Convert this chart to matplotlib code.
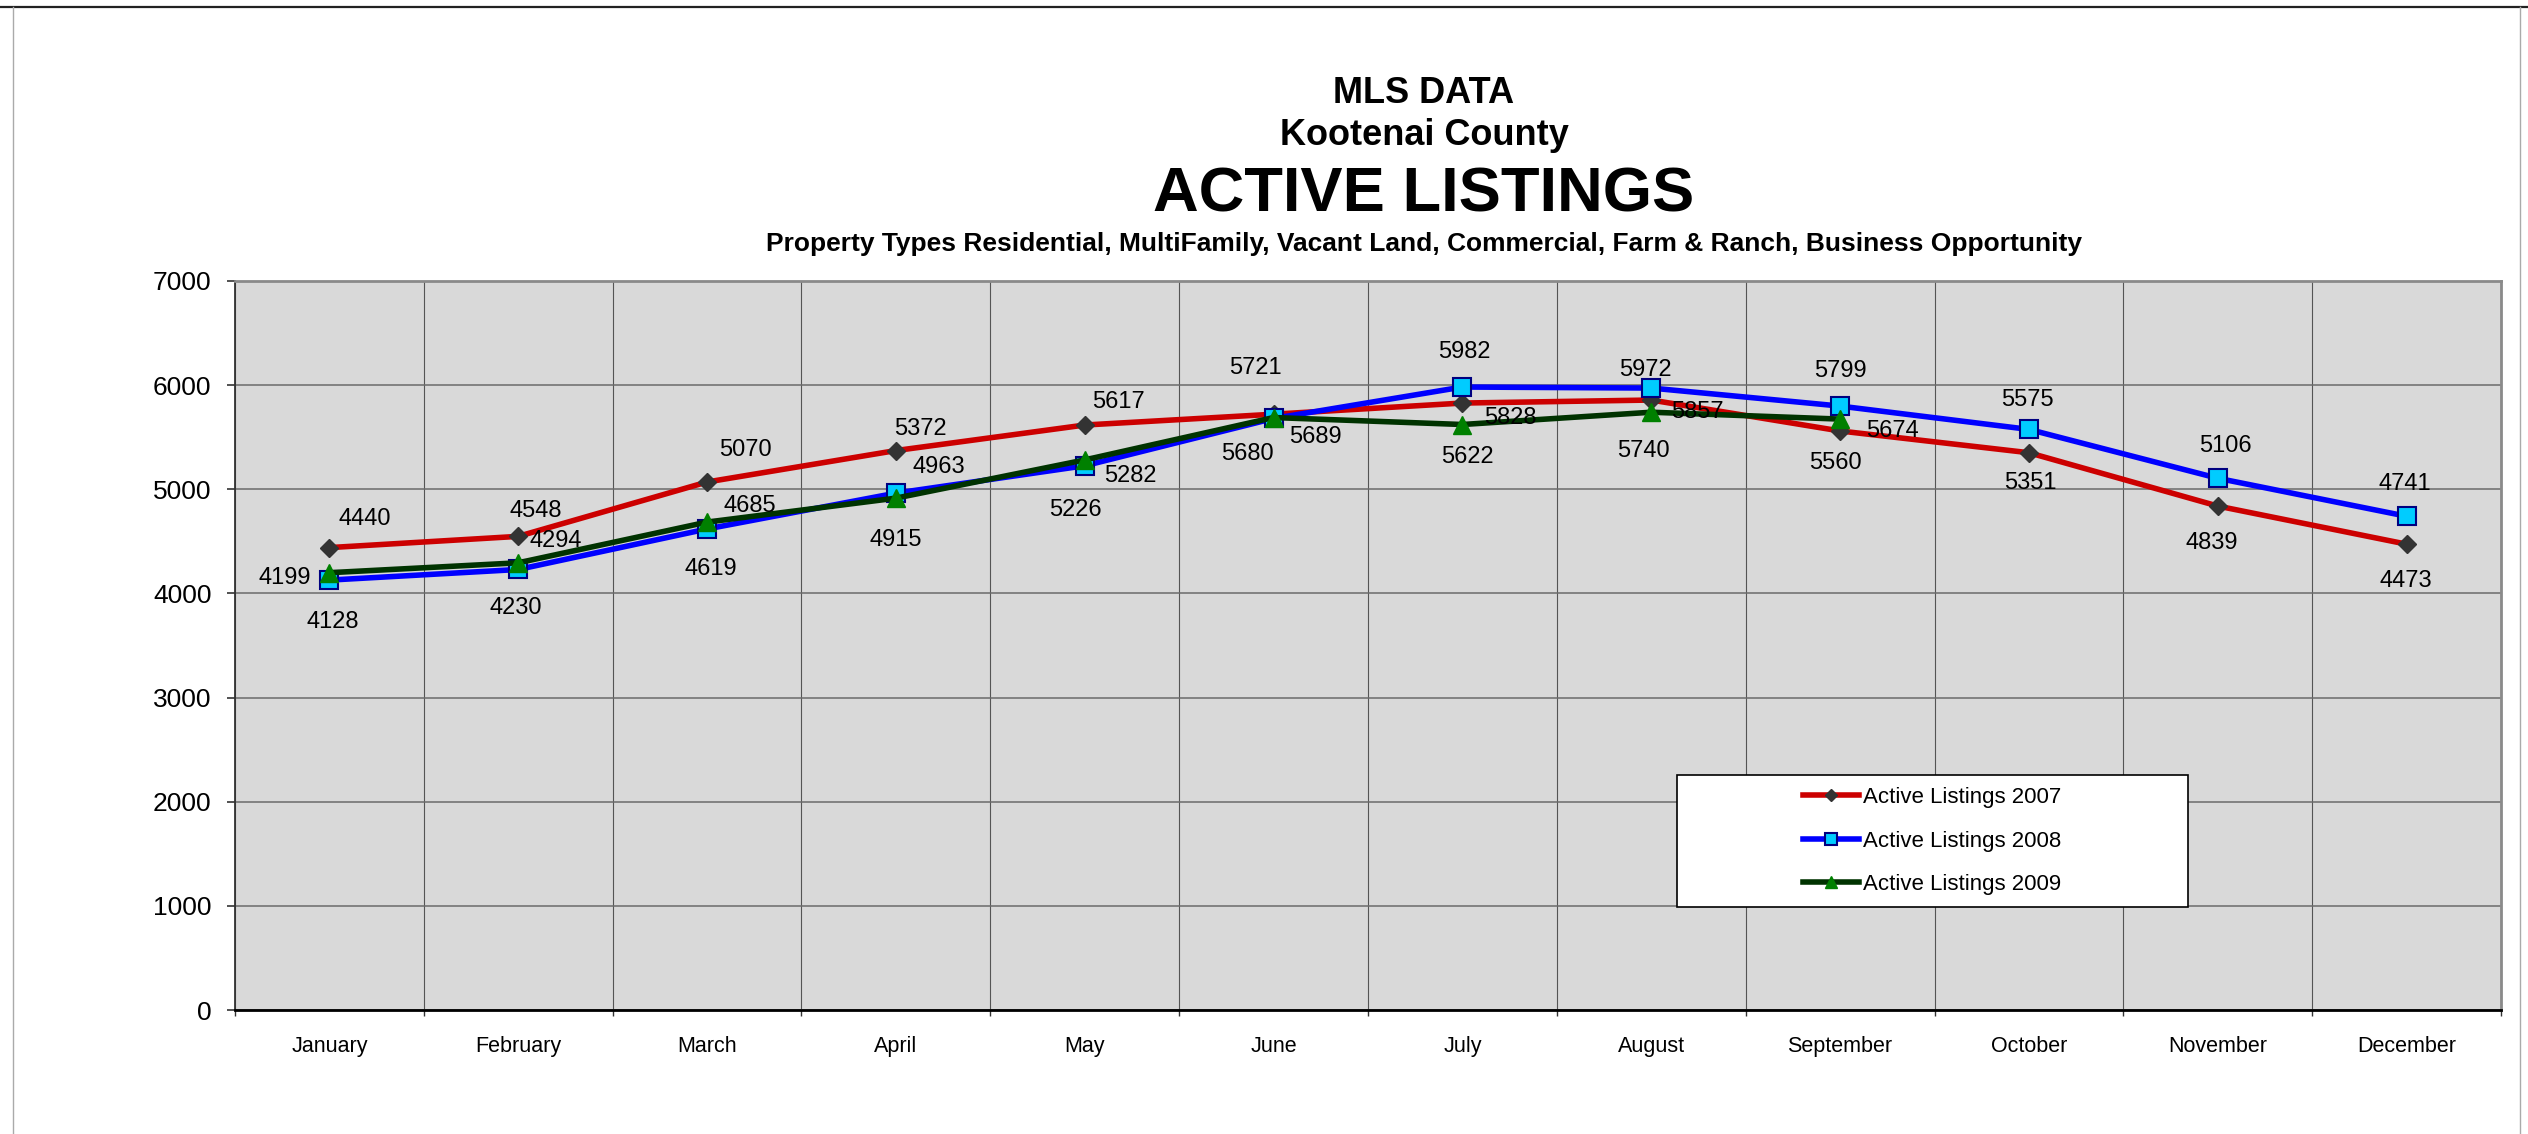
import numpy as np
import matplotlib
matplotlib.use("Agg")
import matplotlib.pyplot as plt
from matplotlib.lines import Line2D
from matplotlib.patches import Rectangle

plt.rcParams['font.family'] = ['Liberation Sans', 'DejaVu Sans']

months = ["January", "February", "March", "April", "May", "June", "July",
          "August", "September", "October", "November", "December"]
listings_2007 = [4440, 4548, 5070, 5372, 5617, 5721, 5828, 5857, 5560, 5351, 4839, 4473]
listings_2008 = [4128, 4230, 4619, 4963, 5226, 5680, 5982, 5972, 5799, 5575, 5106, 4741]
listings_2009 = [4199, 4294, 4685, 4915, 5282, 5689, 5622, 5740, 5674]
series_labels = ["Active Listings 2007", "Active Listings 2008", "Active Listings 2009"]
y_ticks = [0, 1000, 2000, 3000, 4000, 5000, 6000, 7000]

# label offsets in pixels (dx right, dy down) relative to each point
off_2007 = [(35, -31), (18, -28), (38, -34), (25, -24), (34, -26), (-18, -49),
            (48, 12), (46, 9), (-5, 30), (1, 28), (-6, 34), (-1, 34)]
off_2008 = [(3, 39), (-2, 36), (4, 38), (43, -29), (-9, 42), (-26, 33),
            (2, -38), (-6, -21), (0, -38), (-1, -32), (8, -35), (-2, -35)]
off_2009 = [(-45, 3), (38, -24), (43, -19), (0, 39), (46, 14), (42, 17),
            (5, 30), (-8, 36), (52, 9)]

W, H = 2528, 1134
fig = plt.figure(figsize=(W / 100, H / 100), dpi=100)
fig.patch.set_facecolor('white')

left, right, top, bottom = 235, 2501, 281, 1010
ax = fig.add_axes([left / W, 1 - bottom / H, (right - left) / W, (bottom - top) / H])
ax.set_facecolor('#D9D9D9')

x07 = np.arange(len(listings_2007))
x08 = np.arange(len(listings_2008))
x09 = np.arange(len(listings_2009))

ax.plot(x07, listings_2007, color='#CC0000', lw=4, marker='D', ms=9,
        mfc='#333333', mec='#333333', label=series_labels[0], zorder=3)
ax.plot(x08, listings_2008, color='#0000FF', lw=4, marker='s', ms=12.5,
        mfc='#00CCFF', mec='#000080', mew=1.5, label=series_labels[1], zorder=4)
ax.plot(x09, listings_2009, color='#003300', lw=4, marker='^', ms=13,
        mfc='#008000', mec='#008000', label=series_labels[2], zorder=5)

for xs, vals, offs in [(x07, listings_2007, off_2007),
                       (x08, listings_2008, off_2008),
                       (x09, listings_2009, off_2009)]:
    for xi, v, (dx, dy) in zip(xs, vals, offs):
        ax.annotate(str(v), (xi, v), xytext=(dx, -dy - 8.5), textcoords='offset pixels',
                    ha='center', va='baseline', fontsize=17, color='black', zorder=6)

ax.set_xlim(-0.5, 11.5)
ax.set_ylim(0, 7000)
ax.set_yticks(y_ticks)
ax.set_yticklabels([str(t) for t in y_ticks], fontsize=19)
ax.tick_params(axis='y', direction='out', length=6, width=1.2, color='#333333', pad=11)

ax.set_xticks(np.arange(-0.5, 12, 1))
ax.set_xticklabels([])
ax.tick_params(axis='x', which='major', direction='out', length=4.5, width=1, color='#333333')
ax.set_xticks(np.arange(12), minor=True)
ax.set_xticklabels(months, minor=True, fontsize=15.5)
ax.tick_params(axis='x', which='minor', length=0, pad=19)

ax.set_axisbelow(True)
ax.yaxis.grid(True, color='#6b6b6b', lw=1.1)
ax.xaxis.grid(True, which='major', color='#555555', lw=0.8)

for s in ['top', 'right']:
    ax.spines[s].set_color('#8a8a8a')
    ax.spines[s].set_linewidth(2)
ax.spines['left'].set_color('#333333')
ax.spines['left'].set_linewidth(1.3)
ax.spines['bottom'].set_color('black')
ax.spines['bottom'].set_linewidth(2)

# legend box
lx0, ly0, lx1, ly1 = 1677, 775, 2188, 907
fig.add_artist(Rectangle((lx0 / W, 1 - ly1 / H), (lx1 - lx0) / W, (ly1 - ly0) / H,
                         transform=fig.transFigure, facecolor='white',
                         edgecolor='black', lw=1.2, zorder=8))
leg = fig.legend(loc='center', bbox_to_anchor=((lx0 + lx1) / 2 / W, 1 - (ly0 + ly1) / 2 / H),
                 frameon=False, fontsize=16, markerscale=0.65, handlelength=2.5,
                 handletextpad=0.2, labelspacing=1.02)
leg.set_zorder(9)

# titles
cx = 1424 / W
fig.text(cx, 1 - 103 / H, "MLS DATA", ha='center', va='baseline', fontsize=26, fontweight='bold')
fig.text(cx, 1 - 145 / H, "Kootenai County", ha='center', va='baseline', fontsize=26, fontweight='bold')
fig.text(cx, 1 - 212 / H, "ACTIVE LISTINGS", ha='center', va='baseline', fontsize=45.5, fontweight='bold')
fig.text(cx, 1 - 251 / H,
         "Property Types Residential, MultiFamily, Vacant Land, Commercial, Farm & Ranch, Business Opportunity",
         ha='center', va='baseline', fontsize=19, fontweight='bold')

# chart area border
fig.add_artist(Line2D([0, 1], [1 - 7 / H, 1 - 7 / H], transform=fig.transFigure, color='#222222', lw=1.6))
fig.add_artist(Line2D([13 / W, 13 / W], [0, 1 - 7 / H], transform=fig.transFigure, color='#aaaaaa', lw=1))
fig.add_artist(Line2D([2520 / W, 2520 / W], [0, 1 - 7 / H], transform=fig.transFigure, color='#aaaaaa', lw=1))

fig.savefig("out.png", dpi=100, facecolor='white')
